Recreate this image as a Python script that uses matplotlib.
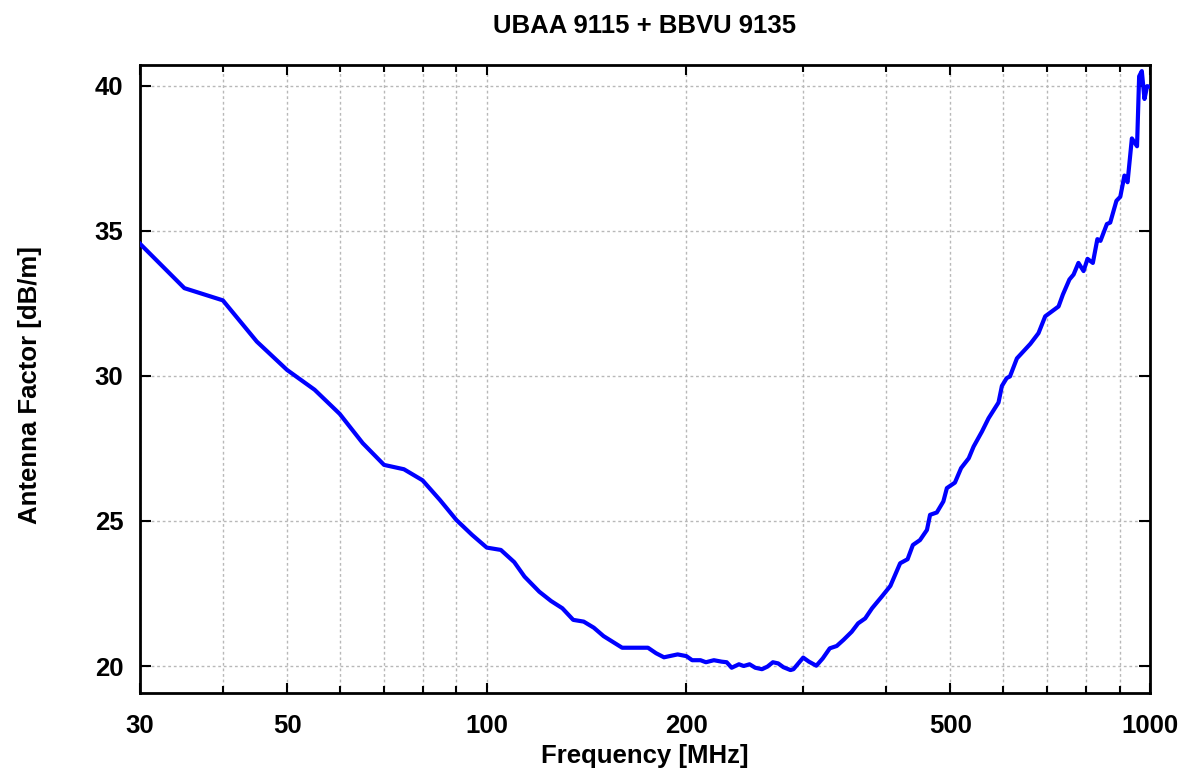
import matplotlib
matplotlib.use("Agg")
import matplotlib.pyplot as plt
from matplotlib.ticker import FixedLocator, NullFormatter, FixedFormatter

plt.rcParams['font.family'] = ['Liberation Sans', 'DejaVu Sans']
plt.rcParams['font.weight'] = 'bold'

title = "UBAA 9115 + BBVU 9135"
xlabel = "Frequency [MHz]"
ylabel = "Antenna Factor [dB/m]"

freq_mhz = [30, 35, 40, 45, 50, 55, 60, 65, 70, 75, 80, 85, 90, 95, 100, 105, 110, 114,
            120, 125, 130, 135, 140, 145, 150, 160, 175, 180, 185, 194, 200, 204, 210,
            214, 220, 226, 230, 234, 240, 244, 249, 254, 260, 265, 270, 275, 280, 287,
            290, 300, 306, 314, 321, 329, 337, 345, 355, 363, 372, 381, 394, 406, 420,
            431, 439, 450, 461, 466, 477, 488, 494, 508, 519, 533, 542, 558, 571, 591,
            598, 608, 615, 630, 660, 679, 695, 728, 739, 756, 767, 780, 794, 805, 820,
            833, 842, 861, 871, 890, 902, 915, 925, 939, 956, 963, 972, 981, 990, 1000]
antenna_factor = [34.55, 33.02, 32.6, 31.18, 30.2, 29.52, 28.69, 27.68, 26.93, 26.78,
                  26.4, 25.72, 25.03, 24.52, 24.08, 24.0, 23.58, 23.08, 22.56, 22.24,
                  21.99, 21.59, 21.53, 21.32, 21.03, 20.63, 20.63, 20.44, 20.3, 20.40,
                  20.34, 20.2, 20.2, 20.13, 20.2, 20.15, 20.13, 19.94, 20.06, 20.0,
                  20.06, 19.94, 19.89, 19.98, 20.13, 20.09, 19.96, 19.86, 19.89, 20.29,
                  20.15, 20.01, 20.26, 20.61, 20.69, 20.9, 21.18, 21.47, 21.64, 21.99,
                  22.39, 22.76, 23.54, 23.68, 24.17, 24.34, 24.69, 25.21, 25.29, 25.67,
                  26.13, 26.32, 26.82, 27.16, 27.56, 28.08, 28.54, 29.08, 29.65, 29.92,
                  29.98, 30.6, 31.1, 31.47, 32.05, 32.39, 32.8, 33.32, 33.49, 33.89,
                  33.61, 34.03, 33.89, 34.71, 34.65, 35.23, 35.28, 36.03, 36.17, 36.9,
                  36.67, 38.18, 37.91, 40.32, 40.5, 39.54, 39.98, 39.96]

x_labeled_ticks = [30, 50, 100, 200, 500, 1000]
x_tick_labels = ["30", "50", "100", "200", "500", "1000"]
x_minor_ticks = [40, 60, 70, 80, 90, 300, 400, 600, 700, 800, 900]
y_ticks = [20, 25, 30, 35, 40]

fig = plt.figure(figsize=(11.91, 7.73), dpi=100)
ax = fig.add_axes([140/1191, 80/773, 1010/1191, 628/773])

ax.plot(freq_mhz, antenna_factor, color='#0000ff', lw=3, solid_joinstyle='round', zorder=3)

ax.set_xscale('log')
ax.set_xlim(30, 1000)
ax.set_ylim(19.07, 40.71)

ax.xaxis.set_major_locator(FixedLocator(x_labeled_ticks))
ax.xaxis.set_major_formatter(FixedFormatter(x_tick_labels))
ax.xaxis.set_minor_locator(FixedLocator(x_minor_ticks))
ax.xaxis.set_minor_formatter(NullFormatter())
ax.set_yticks(y_ticks)
ax.set_yticklabels([str(v) for v in y_ticks])

grid_kw = dict(color='#b8b8b8', linestyle=(0, (2, 2)), linewidth=1.0)
ax.grid(True, which='major', **grid_kw)
ax.grid(True, which='minor', axis='x', **grid_kw)

ax.tick_params(axis='both', which='both', direction='in', top=True, right=True,
               width=1.5, labelsize=18.5)
ax.tick_params(axis='x', which='major', length=7, pad=15)
ax.tick_params(axis='x', which='minor', length=5)
ax.tick_params(axis='y', which='major', length=8, pad=12)
for lab in ax.get_xticklabels() + ax.get_yticklabels():
    lab.set_fontweight('bold')

for sp in ax.spines.values():
    sp.set_linewidth(2)

fig.text(645/1191, 1 - 26/773, title, ha='center', va='center', fontsize=18.5, fontweight='bold')
fig.text(645/1191, 1 - 756/773, xlabel, ha='center', va='center', fontsize=18.5, fontweight='bold')
fig.text(30/1191, 1 - 385/773, ylabel, ha='center', va='center', rotation=90, fontsize=18.5, fontweight='bold')

fig.savefig("out.png", dpi=100)
